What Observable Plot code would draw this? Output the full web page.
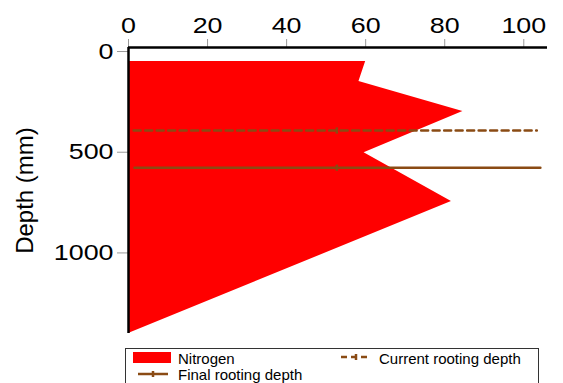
<!DOCTYPE html>
<html><head><meta charset="utf-8">
<script src="https://cdn.jsdelivr.net/npm/d3@7"></script>
<script src="https://cdn.jsdelivr.net/npm/@observablehq/plot@0.6"></script>
<style>
html,body{margin:0;padding:0;background:#fff;overflow:hidden;}
#wrap{position:relative;width:563px;height:383px;}
#legend{position:absolute;left:125px;top:348px;width:412px;height:40px;border:1px solid #333;font-family:"Liberation Sans",Arial,sans-serif;font-size:15px;color:#000;}
#legend .lab{position:absolute;line-height:15px;white-space:nowrap;}
#legend svg{position:absolute;overflow:visible;}
</style></head><body><div id="wrap"><div id="chart"></div><div id="legend"></div></div>
<script>
// Data
const depthMm = [50, 149, 298, 503, 745, 1400];
const nitrogen = [60, 58.3, 84.6, 59.6, 81.7, 0];
const currentRootingDepth = 392;
const finalRootingDepth = 577;
const currentLineX = [1.3, 52.7, 103.3];
const finalLineX = [1.5, 52.7, 104.2];
const markerX = [52.7];
const xTicks = [0, 20, 40, 60, 80, 100];
const yTicks = [0, 500, 1000];
const seriesNames = ["Nitrogen", "Current rooting depth", "Final rooting depth"];

const brown = "#8a4b14";
const profile = depthMm.map((d, i) => ({depth: d, n: nitrogen[i]}));
const current = currentLineX.map(x => ({x, depth: currentRootingDepth}));
const final = finalLineX.map(x => ({x, depth: finalRootingDepth}));
const markers = [
  ...markerX.map(x => ({x, depth: currentRootingDepth})),
  ...markerX.map(x => ({x, depth: finalRootingDepth}))
];
const tickSymbol = {draw(ctx, size){ const h = Math.sqrt(size); ctx.moveTo(0, -h/2); ctx.lineTo(0, h/2); }};

const plot = Plot.plot({
  width: 563, height: 345,
  marginLeft: 128, marginRight: 16, marginTop: 47, marginBottom: 12,
  style: {fontFamily: "'Liberation Sans', Arial, sans-serif", background: "white", overflow: "visible", color: "black"},
  x: {domain: [0, 106]},
  y: {domain: [-20, 1400], reverse: true},
  marks: [
    Plot.areaX(profile, {y: "depth", x1: 0, x2: "n", fill: "#ff0000", curve: "linear"}),
    Plot.line(current, {x: "x", y: "depth", stroke: brown, strokeWidth: 2.5, strokeDasharray: "7,4.5"}),
    Plot.line(final, {x: "x", y: "depth", stroke: brown, strokeWidth: 2.5}),
    Plot.dot(markers, {x: "x", y: "depth", symbol: tickSymbol, r: 3.5, stroke: brown, strokeWidth: 2.5, fill: "none"}),
    Plot.axisX({anchor: "top", ticks: xTicks, tickSize: 9, tickPadding: 6, fontSize: 22, label: null, stroke: "#999", fill: "black", tickFormat: d => String(d)}),
    Plot.axisY({anchor: "left", ticks: yTicks, tickSize: 11, tickPadding: 4, fontSize: 22, label: "Depth (mm)", labelAnchor: "center", labelOffset: 113, labelArrow: "none", stroke: "#999", fill: "black", tickFormat: d => String(d)}),
    Plot.ruleY([-20], {stroke: "black", strokeWidth: 2.5}),
    Plot.ruleX([0], {stroke: "black", strokeWidth: 2.5})
  ]
});
document.getElementById("chart").appendChild(plot);

// widen tick label glyphs to match the reference's stretched type
plot.querySelectorAll('g[aria-label="x-axis tick label"] text, g[aria-label="y-axis tick label"] text').forEach(t => {
  const tr = t.getAttribute("transform") || "";
  t.setAttribute("transform", tr + " scale(1.22,1)");
});
plot.querySelectorAll('g[aria-label="y-axis label"] text').forEach(t => t.setAttribute("font-size", "24"));

// legend
const lg = document.getElementById("legend");
lg.innerHTML = `
 <svg style="left:7px;top:3px" width="38" height="11"><rect x="0" y="0" width="38" height="11" fill="#ff0000"/></svg>
 <span class="lab" style="left:52px;top:2px">${seriesNames[0]}</span>
 <svg style="left:215px;top:2px" width="30" height="12"><line x1="0" x2="30" y1="6" y2="6" stroke="${brown}" stroke-width="2.5" stroke-dasharray="6,4"/><line x1="15" x2="15" y1="3" y2="9" stroke="${brown}" stroke-width="2.5"/></svg>
 <span class="lab" style="left:253px;top:2px">${seriesNames[1]}</span>
 <svg style="left:12px;top:19px" width="30" height="12"><line x1="0" x2="30" y1="6" y2="6" stroke="${brown}" stroke-width="2.5"/><line x1="15" x2="15" y1="3" y2="9" stroke="${brown}" stroke-width="2.5"/></svg>
 <span class="lab" style="left:52px;top:18px">${seriesNames[2]}</span>`;
</script>
</body></html>
